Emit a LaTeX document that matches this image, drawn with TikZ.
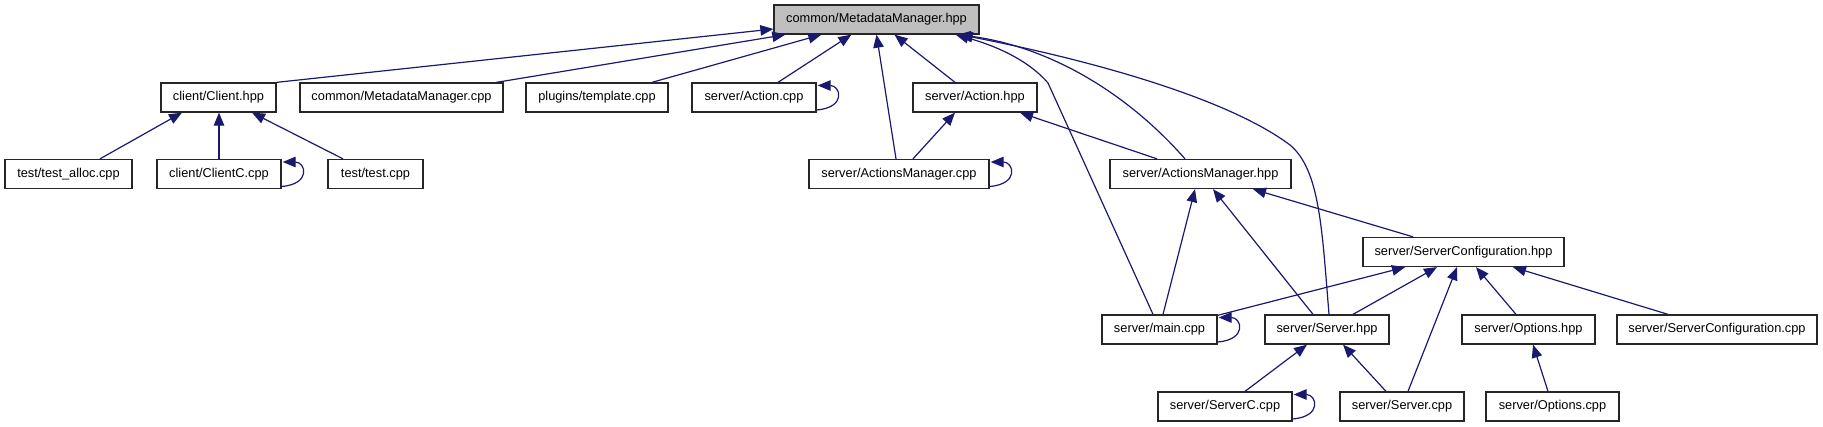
\documentclass[tikz,border=0pt]{standalone}
\usepackage{fontspec}
\setmainfont{Liberation Sans}
\usetikzlibrary{arrows.meta,calc}
\definecolor{edgeblue}{HTML}{191970}
\definecolor{boxgray}{HTML}{BFBFBF}
\begin{document}
\begin{tikzpicture}[x=1pt,y=-1pt,
  box/.style={draw=black!85,line width=1.3pt,rectangle,minimum height=29pt,inner sep=0pt,
    font=\fontsize{12.8}{15}\selectfont,fill=white},
  edge/.style={draw=edgeblue,line width=1.2pt,-{Triangle[length=13pt,width=10.5pt]},
    shorten >=0pt},
  selfloop/.style={edge}
]
\useasboundingbox (0,0) rectangle (1823,427);
% row 0
\node[box,fill=boxgray,minimum width=205pt] (mmh) at (876.5,19.5) {common/MetadataManager.hpp};
% row 1
\node[box,minimum width=115pt] (clh) at (218.5,97.5) {client/Client.hpp};
\node[box,minimum width=203pt] (mmc) at (401.5,97.5) {common/MetadataManager.cpp};
\node[box,minimum width=142pt] (tpl) at (597,97.5) {plugins/template.cpp};
\node[box,minimum width=124pt] (acc) at (754,97.5) {server/Action.cpp};
\node[box,minimum width=124pt] (ach) at (975,97.5) {server/Action.hpp};
% row 2
\node[box,minimum width=127pt] (tal) at (68.5,174) {test/test\_alloc.cpp};
\node[box,minimum width=124pt] (clc) at (219,174) {client/ClientC.cpp};
\node[box,minimum width=95pt] (tst) at (375.5,174) {test/test.cpp};
\node[box,minimum width=180pt] (amc) at (899,174) {server/ActionsManager.cpp};
\node[box,minimum width=181pt] (amh) at (1200.5,174) {server/ActionsManager.hpp};
% row 3
\node[box,minimum width=201pt] (sch) at (1463.5,252) {server/ServerConfiguration.hpp};
% row 4
\node[box,minimum width=115pt] (mnc) at (1159.5,329.5) {server/main.cpp};
\node[box,minimum width=124pt] (svh) at (1327,329.5) {server/Server.hpp};
\node[box,minimum width=133pt] (oph) at (1528.5,329.5) {server/Options.hpp};
\node[box,minimum width=200pt] (scc) at (1717,329.5) {server/ServerConfiguration.cpp};
% row 5
\node[box,minimum width=134pt] (sxc) at (1225,406.5) {server/ServerC.cpp};
\node[box,minimum width=124pt] (svc) at (1402,406.5) {server/Server.cpp};
\node[box,minimum width=133pt] (opc) at (1552.5,406.5) {server/Options.cpp};

% edges into common/MetadataManager.hpp
\draw[edge] (clh.north east) -- ($(mmh.west)+(0,9.5)$);
\draw[edge] ($(mmc.north)+(95,0)$) -- ($(mmh.south west)+(12,0)$);
\draw[edge] ($(tpl.north)+(55,0)$) -- ($(mmh.south west)+(48,0)$);
\draw[edge] ($(acc.north)+(24,0)$) -- ($(mmh.south west)+(78,0)$);
\draw[edge] ($(amc.north)+(-3,0)$) -- (mmh.south);
\draw[edge] ($(ach.north)+(-20,0)$) -- ($(mmh.south)+(18,0)$);
\coordinate (k1) at (1048,83);
\draw[edge] ($(mnc.north)+(-6.5,0)$) -- (k1) .. controls (1030,62) and (1000,47) .. ($(mmh.south east)+(-24,0)$);
\draw[edge] ($(amh.north)+(-15.5,0)$) .. controls (1120,85) and (1040,45) .. ($(mmh.south east)+(-22,0)$);
\coordinate (k2) at (1290,145);
\draw[edge] ($(svh.north)+(2,0)$) .. controls (1322,230) and (1320,170) .. (k2) .. controls (1230,100) and (1100,62) .. ($(mmh.south east)+(-20,0)$);

% edges into server/Action.hpp
\draw[edge] ($(amc.north)+(14,0)$) -- ($(ach.south)+(-20,0)$);
\draw[edge] ($(amh.north)+(-43.5,0)$) -- ($(ach.south)+(45,0)$);

% edges into server/ActionsManager.hpp
\draw[edge] ($(mnc.north)+(3.5,0)$) -- ($(amh.south)+(-5.5,0)$);
\draw[edge] ($(svh.north)+(-14,0)$) -- ($(amh.south)+(12.5,0)$);
\draw[edge] ($(sch.north)+(-50.5,0)$) -- ($(amh.south)+(52.5,0)$);

% edges into server/ServerConfiguration.hpp
\draw[edge] ($(mnc.north east)+(0,1)$) -- ($(sch.south)+(-58.5,0)$);
\draw[edge] ($(svh.north)+(26,0)$) -- ($(sch.south)+(-26.5,0)$);
\draw[edge] ($(svc.north)+(6,0)$) -- ($(sch.south)+(-6.5,0)$);
\draw[edge] ($(oph.north)+(-12.5,0)$) -- ($(sch.south)+(12.5,0)$);
\draw[edge] ($(scc.north)+(-49,0)$) -- ($(sch.south)+(49.5,0)$);

% edges into server/Server.hpp and server/Options.hpp
\draw[edge] ($(sxc.north)+(20,0)$) -- ($(svh.south)+(-20,0)$);
\draw[edge] ($(svc.north)+(-16,0)$) -- ($(svh.south)+(16,0)$);
\draw[edge] ($(opc.north)+(-4.5,0)$) -- ($(oph.south)+(4.5,0)$);

% edges into client/Client.hpp
\draw[edge] ($(tal.north)+(31.5,0)$) -- ($(clh.south)+(-36.5,0)$);
\draw[edge] (clc.north) -- ($(clh.south)+(0.5,0)$);
\draw[edge] ($(tst.north)+(-32.5,0)$) -- ($(clh.south)+(33.5,0)$);

% self loops
\foreach \n in {clc,acc,amc,mnc,sxc}{
  \draw[selfloop] ($(\n.east)+(0,12.5)$) .. controls ($(\n.east)+(30,10)$) and ($(\n.east)+(24,-12)$) .. ($(\n.east)+(1,-12)$);
}
\end{tikzpicture}
\end{document}
